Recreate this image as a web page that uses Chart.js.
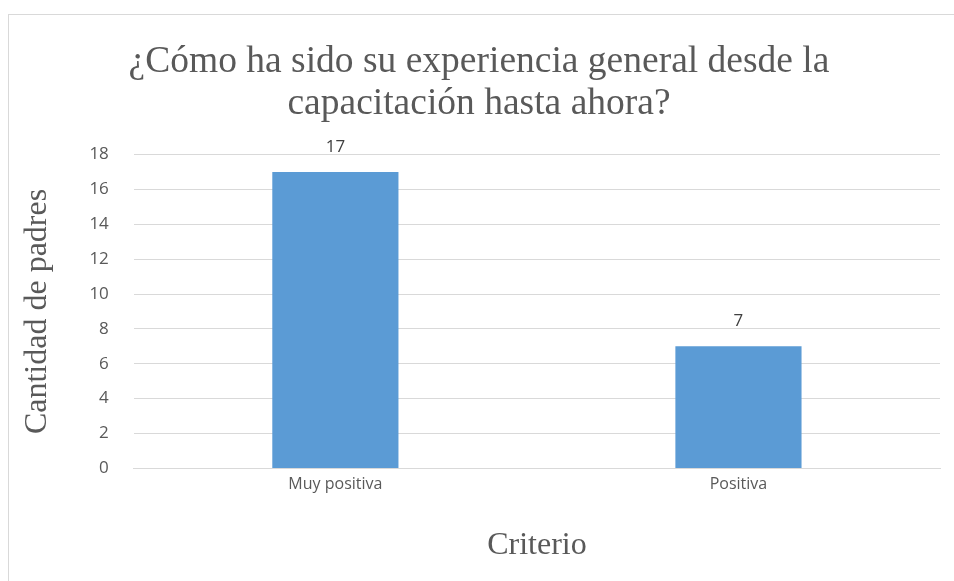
<!DOCTYPE html>
<html>
<head>
<meta charset="utf-8">
<script src="https://cdn.jsdelivr.net/npm/chart.js@4.4.1/dist/chart.umd.min.js"></script>
<style>
  html, body { margin: 0; padding: 0; background: #fff; }
  #wrap { position: relative; width: 954px; height: 581px; overflow: hidden; }
  #frame { position: absolute; left: 8px; top: 14px; width: 960px; height: 600px; border: 1px solid #d9d9d9; box-sizing: border-box; }
  canvas { position: absolute; left: 0; top: 0; }
</style>
</head>
<body>
<div id="wrap">
  <div id="frame"></div>
  <canvas id="chart" width="954" height="581"></canvas>
</div>
<script>
  const categories = ['Muy positiva', 'Positiva'];
  const padres = [17, 7];
  const titleLines = ['¿Cómo ha sido su experiencia general desde la', 'capacitación hasta ahora?'];

  const serif = '"Liberation Serif", "Times New Roman", serif';
  const sans = '"Open Sans", sans-serif';

  // numbers above the bars
  const barLabels = {
    id: 'barLabels',
    afterDatasetsDraw(chart) {
      const ctx = chart.ctx;
      const meta = chart.getDatasetMeta(0);
      ctx.save();
      ctx.font = '17px ' + sans;
      ctx.fillStyle = '#404040';
      ctx.textAlign = 'center';
      ctx.textBaseline = 'middle';
      meta.data.forEach((bar, i) => {
        ctx.fillText(padres[i], bar.x, bar.y - 25);
      });
      ctx.restore();
    }
  };

  new Chart(document.getElementById('chart'), {
    type: 'bar',
    data: {
      labels: categories,
      datasets: [{
        label: 'Cantidad de padres',
        data: padres,
        backgroundColor: '#5b9bd5',
        borderWidth: 0,
        barPercentage: 0.313,
        categoryPercentage: 1
      }]
    },
    options: {
      responsive: false,
      animation: false,
      layout: { padding: { left: 18, right: 14, top: 42, bottom: 16 } },
      plugins: {
        legend: { display: false },
        tooltip: { enabled: false },
        title: {
          display: true,
          text: titleLines,
          color: '#595959',
          font: { family: serif, size: 37.5, weight: 'normal', lineHeight: 1.1 },
          padding: { top: 0, bottom: 30 }
        }
      },
      scales: {
        x: {
          grid: { display: false, drawTicks: false },
          border: { color: '#d9d9d9', width: 1 },
          ticks: { color: '#595959', font: { family: sans, size: 16 }, padding: 6 },
          title: {
            display: true,
            text: 'Criterio',
            color: '#595959',
            font: { family: serif, size: 32 },
            padding: { top: 27, bottom: 0 }
          }
        },
        y: {
          min: 0,
          max: 18,
          ticks: { stepSize: 2, color: '#595959', font: { family: sans, size: 17 }, padding: 25 },
          grid: { color: '#d9d9d9', drawTicks: false },
          border: { display: false },
          title: {
            display: true,
            text: 'Cantidad de padres',
            color: '#595959',
            font: { family: serif, size: 32 },
            padding: { top: 0, bottom: 8 }
          }
        }
      }
    },
    plugins: [barLabels]
  });
</script>
</body>
</html>
